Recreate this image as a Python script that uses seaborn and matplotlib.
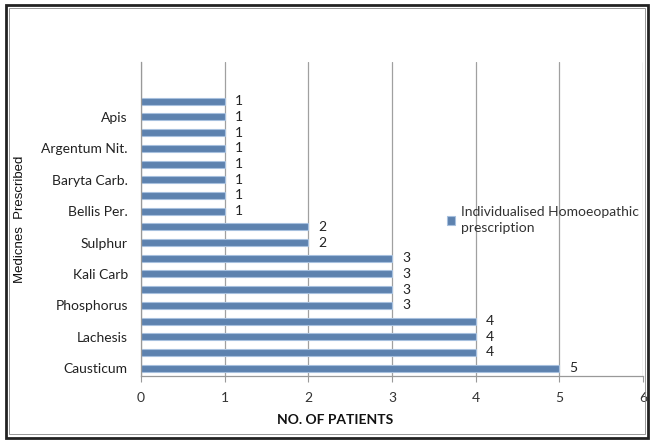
import matplotlib
matplotlib.use("Agg")
import matplotlib.pyplot as plt
from matplotlib.patches import Rectangle
import seaborn as sns
import pandas as pd

# Remedies listed top to bottom; only every other name is shown on the axis
medicines = [
    "Pulsatilla", "Apis", "Natrum Mur.", "Argentum Nit.", "Lycopodium",
    "Baryta Carb.", "Silicea", "Bellis Per.", "Calcarea Carb.", "Sulphur",
    "Nux Vomica", "Kali Carb", "Rhus Tox.", "Phosphorus", "Arsenicum Alb.",
    "Lachesis", "Ignatia", "Causticum",
]
patients = [1, 1, 1, 1, 1, 1, 1, 1, 2, 2, 3, 3, 3, 3, 4, 4, 4, 5]
shown_labels = ["Apis", "Argentum Nit.", "Baryta Carb.", "Bellis Per.",
                "Sulphur", "Kali Carb", "Phosphorus", "Lachesis", "Causticum"]
series_name = "Individualised Homoeopathic\nprescription"
x_ticks = [0, 1, 2, 3, 4, 5, 6]

df = pd.DataFrame({"medicine": medicines, "patients": patients,
                   "series": series_name})

sns.set_theme(style="white")
plt.rcParams["font.family"] = ["Lato", "DejaVu Sans"]

FS = 10

fig = plt.figure(figsize=(6.51, 4.41), dpi=100)
ax = fig.add_axes([141 / 651, 1 - 376 / 441, (643 - 141) / 651, (376 - 62) / 441])

bar_color = "#4F81BD"
sns.barplot(data=df, x="patients", y="medicine", hue="series", orient="h",
            palette=[bar_color], width=0.45, ax=ax,
            edgecolor="#A7C0DE", linewidth=0.8, legend=True)

ax.set_xlim(0, 6)
ax.set_ylim(len(medicines) - 0.5, -2.5)
ax.set_xticks(x_ticks)
ax.set_xticklabels([str(t) for t in x_ticks], fontsize=FS, color="#333333")
ax.set_yticks(range(len(medicines)))
ax.set_yticklabels([m if m in shown_labels else "" for m in medicines],
                   fontsize=FS, color="#222222")
ax.tick_params(axis="x", length=4, width=0.8, color="#999999", direction="out",
               pad=7.5, bottom=True)
ax.tick_params(axis="y", length=0, pad=9.5)

ax.grid(axis="x", color="#A0A0A0", linewidth=0.9)
ax.grid(axis="y", visible=False)
ax.set_axisbelow(True)
for side in ["top", "right"]:
    ax.spines[side].set_visible(False)
for side in ["left", "bottom"]:
    ax.spines[side].set_color("#999999")
    ax.spines[side].set_linewidth(0.9)

# value labels next to each bar
for i, v in enumerate(patients):
    ax.text(v + 0.12, i, str(v), va="center", ha="left", fontsize=FS,
            color="#222222")

ax.set_xlabel("NO. OF PATIENTS", fontsize=FS, fontweight="bold",
              color="#111111")
ax.xaxis.set_label_coords((335 - 141) / 502, -(420 - 376) / 314)
ax.xaxis.label.set_va("center")
ax.set_ylabel("Medicnes  Prescribed", fontsize=9.5, family="Liberation Sans",
              color="#111111")
ax.yaxis.set_label_coords(-(141 - 20) / 502, 0.5)
ax.yaxis.label.set_va("center")

leg = ax.legend(loc="upper left", bbox_to_anchor=(447 / 651, 1 - 206 / 441),
                bbox_transform=fig.transFigure, frameon=False, fontsize=FS,
                handlelength=0.6, handleheight=0.6, handletextpad=0.4,
                borderaxespad=0, borderpad=0)
for t in leg.get_texts():
    t.set_color("#333333")
    t.set_linespacing(1.45)

# double frame around the whole chart
fig.patches.append(Rectangle((5.5 / 651, 3.5 / 441), 642 / 651, 433 / 441,
                             transform=fig.transFigure, fill=False,
                             edgecolor="#222222", linewidth=2.0))
fig.patches.append(Rectangle((9 / 651, 7 / 441), 636 / 651, 426 / 441,
                             transform=fig.transFigure, fill=False,
                             edgecolor="#888888", linewidth=0.6))

fig.savefig("out.png", dpi=100)
